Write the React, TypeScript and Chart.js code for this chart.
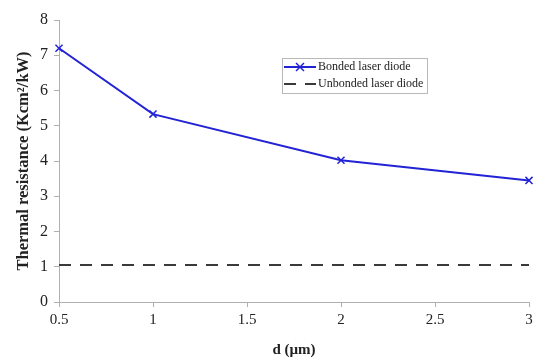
import React, { useEffect, useRef } from "react";
import { Chart, registerables } from "chart.js";

Chart.register(...registerables);

const dValues = [0.5, 1, 2, 3];
const bondedValues = [7.2, 5.33, 4.02, 3.45];
const unbondedX = [0.5, 3];
const unbondedValues = [1.05, 1.05];
const seriesLabels = ["Bonded laser diode", "Unbonded laser diode"];
const xTitle = "d (\u00b5m)";
const yTitle = "Thermal resistance (Kcm\u00b2/kW)";

const FONT = "'Liberation Serif', 'DejaVu Serif', serif";

const boxLegend = {
  id: "boxLegend",
  afterDraw(chart: any) {
    const ctx = chart.ctx;
    const x = 282, y = 58, w = 145, h = 35;
    ctx.save();
    ctx.fillStyle = "#ffffff";
    ctx.fillRect(x, y, w, h);
    ctx.strokeStyle = "#b8b8b8";
    ctx.lineWidth = 1;
    ctx.strokeRect(x + 0.5, y + 0.5, w, h);
    ctx.font = "12px " + FONT;
    ctx.textBaseline = "middle";
    chart.data.datasets.forEach((ds: any, i: number) => {
      const cy = y + 9 + i * 17;
      ctx.strokeStyle = ds.borderColor;
      ctx.lineWidth = ds.borderWidth;
      ctx.setLineDash(ds.borderDash || []);
      ctx.beginPath();
      ctx.moveTo(x + 2, cy);
      ctx.lineTo(x + 34, cy);
      ctx.stroke();
      ctx.setLineDash([]);
      if (ds.pointStyle === "crossRot") {
        ctx.lineWidth = 1.5;
        ctx.beginPath();
        ctx.moveTo(x + 14, cy - 4);
        ctx.lineTo(x + 22, cy + 4);
        ctx.moveTo(x + 22, cy - 4);
        ctx.lineTo(x + 14, cy + 4);
        ctx.stroke();
      }
      ctx.fillStyle = "#222";
      ctx.fillText(ds.label, x + 36, cy);
    });
    ctx.restore();
  },
};

export default function App() {
  const ref = useRef<HTMLCanvasElement>(null);
  useEffect(() => {
    document.body.style.margin = "0";
    const chart = new Chart(ref.current as HTMLCanvasElement, {
      type: "line",
      data: {
        datasets: [
          {
            label: seriesLabels[0],
            data: dValues.map((d, i) => ({ x: d, y: bondedValues[i] })),
            borderColor: "#2323d6",
            backgroundColor: "#2323d6",
            borderWidth: 2,
            pointStyle: "crossRot",
            pointRadius: 5,
            pointBorderWidth: 1.5,
            tension: 0,
            clip: false,
          },
          {
            label: seriesLabels[1],
            data: unbondedX.map((d, i) => ({ x: d, y: unbondedValues[i] })),
            borderColor: "#3a3a3a",
            backgroundColor: "#3a3a3a",
            borderWidth: 2,
            borderDash: [12, 9],
            pointRadius: 0,
            pointStyle: "line",
          },
        ],
      },
      options: {
        animation: false,
        responsive: false,
        layout: { padding: { top: 20, right: 10, left: 0, bottom: 0 } },
        plugins: { legend: { display: false }, tooltip: { enabled: false } },
        scales: {
          x: {
            type: "linear",
            min: 0.5,
            max: 3,
            ticks: {
              stepSize: 0.5,
              color: "#222",
              font: { family: FONT, size: 15 },
              padding: 4,
              callback: (v: any) => String(v),
            },
            grid: { drawOnChartArea: false, color: "#b0b0b0", tickLength: 5 },
            border: { color: "#b0b0b0" },
            title: {
              display: true,
              text: xTitle,
              color: "#222",
              font: { family: FONT, size: 15, weight: "bold" },
              padding: { top: 8 },
            },
            afterFit: (s: any) => {
              s.height = 61;
            },
          },
          y: {
            min: 0,
            max: 8,
            ticks: {
              stepSize: 1,
              color: "#222",
              font: { family: FONT, size: 16 },
              padding: 6,
            },
            grid: { drawOnChartArea: false, color: "#b0b0b0", tickLength: 5 },
            border: { color: "#b0b0b0" },
            title: {
              display: true,
              text: yTitle,
              color: "#222",
              font: { family: FONT, size: 16.5, weight: "bold" },
              padding: { top: 14, bottom: 0 },
            },
            afterFit: (s: any) => {
              s.width = 59;
            },
          },
        },
      },
      plugins: [boxLegend],
    });
    return () => chart.destroy();
  }, []);
  return <canvas ref={ref} width={539} height={363} style={{ display: "block" }} />;
}
